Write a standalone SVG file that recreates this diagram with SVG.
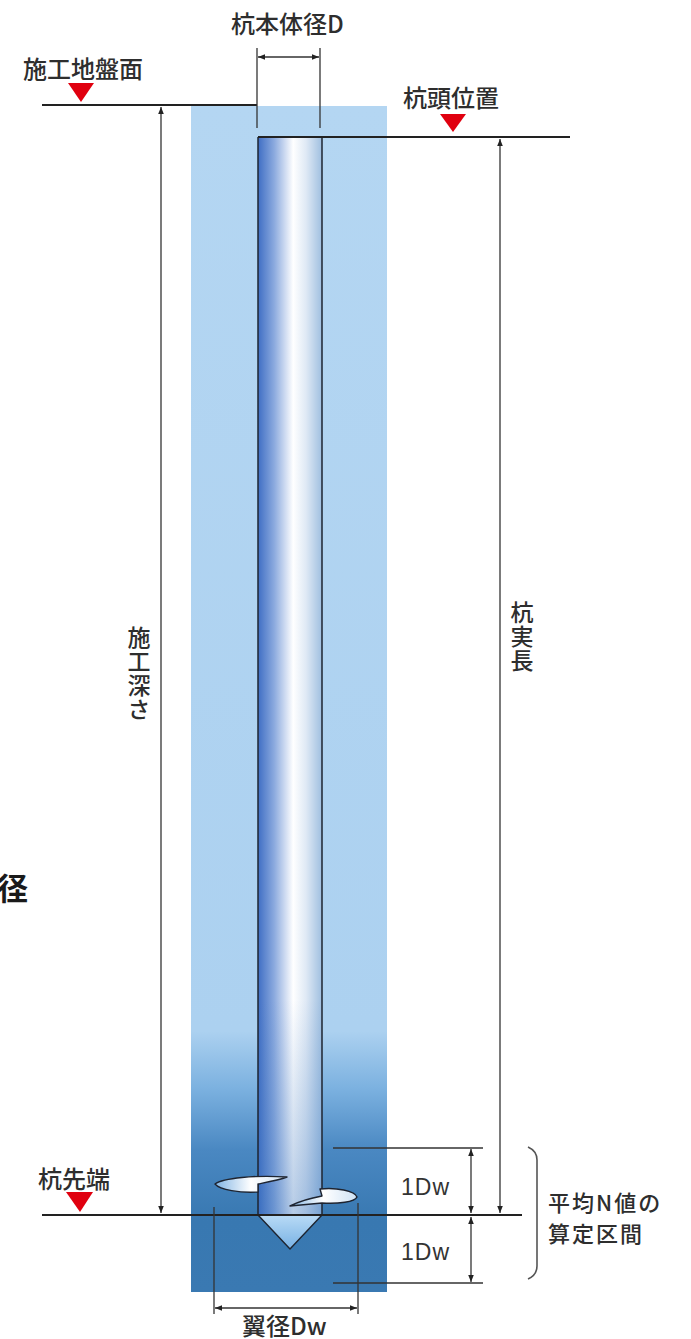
<svg xmlns="http://www.w3.org/2000/svg" width="691" height="1339" viewBox="0 0 691 1339">
  <defs>
    <style>
      .lbl { font-family: "Noto Sans CJK JP", "Noto Sans", sans-serif; font-size: 24px; font-weight: 500; fill: #2e2e2e; }
      .vert { font-size: 23px; writing-mode: vertical-rl; letter-spacing: 1px; }
      .note { font-size: 22px; letter-spacing: 2px; }
      .num { font-family: "Liberation Sans", "Noto Sans", sans-serif; font-size: 23px; fill: #333; letter-spacing: 1px; }
      .line { stroke: #222; stroke-width: 1.8; fill: none; }
      .dim { stroke: #333; stroke-width: 1.3; fill: none; }
      .mark { fill: #e0000f; }
      .edge { stroke: #1e2430; stroke-width: 1.5; }
    </style>
    <marker id="arr" viewBox="0 0 10 10" refX="10" refY="5" markerWidth="9" markerHeight="7" markerUnits="userSpaceOnUse" orient="auto-start-reverse">
      <path d="M0,1 L10,5 L0,9 Z" fill="#222"/>
    </marker>
    <linearGradient id="soilGrad" x1="0" y1="106" x2="0" y2="1292" gradientUnits="userSpaceOnUse">
      <stop offset="0" stop-color="#b4d6f2"/>
      <stop offset="0.78" stop-color="#acd1f0"/>
      <stop offset="0.83" stop-color="#7ab0df"/>
      <stop offset="0.88" stop-color="#4a88c2"/>
      <stop offset="0.94" stop-color="#3878b1"/>
      <stop offset="1" stop-color="#3a79b2"/>
    </linearGradient>
    <linearGradient id="pileGrad" x1="258" y1="0" x2="322" y2="0" gradientUnits="userSpaceOnUse">
      <stop offset="0" stop-color="#3f6ec4"/>
      <stop offset="0.25" stop-color="#8aa9de"/>
      <stop offset="0.55" stop-color="#ffffff"/>
      <stop offset="0.75" stop-color="#dfe9f5"/>
      <stop offset="1" stop-color="#9fbfe0"/>
    </linearGradient>
    <linearGradient id="pileShade" x1="0" y1="137" x2="0" y2="1215" gradientUnits="userSpaceOnUse">
      <stop offset="0" stop-color="#2e6cb8" stop-opacity="0"/>
      <stop offset="0.8" stop-color="#2e6cb8" stop-opacity="0"/>
      <stop offset="1" stop-color="#2e6cb8" stop-opacity="0.35"/>
    </linearGradient>
    <linearGradient id="bladeGrad" x1="0" y1="0" x2="1" y2="0">
      <stop offset="0" stop-color="#7fb3e3"/>
      <stop offset="0.5" stop-color="#ffffff"/>
      <stop offset="1" stop-color="#cfe2f4"/>
    </linearGradient>
    <linearGradient id="coneGrad" x1="0" y1="0" x2="0" y2="1">
      <stop offset="0" stop-color="#b9dbf6"/>
      <stop offset="1" stop-color="#78b1e4"/>
    </linearGradient>
  </defs>

  <rect width="691" height="1339" fill="#ffffff"/>

  <!-- ground column around the pile -->
  <g id="soil">
    <rect x="191" y="106" width="196" height="1186" fill="url(#soilGrad)"/>
  </g>

  <!-- steel pile with helical blade and conical tip -->
  <g id="pile">
    <rect x="258" y="137" width="64" height="1078" fill="url(#pileGrad)"/>
    <rect x="258" y="137" width="64" height="1078" fill="url(#pileShade)"/>
    <line class="edge" x1="258" y1="137" x2="258" y2="1215"/>
    <line class="edge" x1="322" y1="137" x2="322" y2="1215"/>
    <polygon points="258,1215 322,1215 290,1249" fill="url(#coneGrad)" stroke="#1e2430" stroke-width="1.4" stroke-linejoin="round"/>
    <path d="M287,1177 C255,1175 223,1178 215,1184 C220,1190 240,1193 258,1192 L258,1184 C268,1182 279,1180 287,1177 Z" fill="url(#bladeGrad)" stroke="#1e2430" stroke-width="1.4" stroke-linejoin="round"/>
    <path d="M320,1189 C336,1187 355,1191 357,1197 C355,1202 338,1204 322,1203 L290,1206 C300,1201 311,1198 322,1196 Z" fill="url(#bladeGrad)" stroke="#1e2430" stroke-width="1.4" stroke-linejoin="round"/>
  </g>

  <!-- construction ground level -->
  <g id="ground-level">
    <line class="line" x1="42" y1="105" x2="257" y2="105"/>
    <polygon class="mark" points="68,83 94,83 81,102"/>
    <text class="lbl" x="23" y="78">施工地盤面</text>
  </g>

  <!-- pile head level -->
  <g id="pile-head">
    <line class="line" x1="258" y1="137" x2="570" y2="137"/>
    <polygon class="mark" points="440,114 466,114 453,132"/>
    <text class="lbl" x="403" y="107">杭頭位置</text>
  </g>

  <!-- pile tip level -->
  <g id="pile-tip">
    <line class="line" x1="42" y1="1215" x2="522" y2="1215"/>
    <polygon class="mark" points="66,1192 93,1192 80,1212"/>
    <text class="lbl" x="38" y="1188">杭先端</text>
  </g>

  <!-- dimension lines -->
  <g id="connectors">
    <!-- pile diameter D -->
    <line class="dim" x1="257" y1="48" x2="257" y2="128"/>
    <line class="dim" x1="320" y1="48" x2="320" y2="128"/>
    <line class="dim" x1="258" y1="57" x2="319" y2="57" marker-start="url(#arr)" marker-end="url(#arr)"/>
    <!-- construction depth -->
    <line class="dim" x1="161" y1="107" x2="161" y2="1213" marker-start="url(#arr)" marker-end="url(#arr)"/>
    <!-- actual pile length -->
    <line class="dim" x1="500" y1="139" x2="500" y2="1213" marker-start="url(#arr)" marker-end="url(#arr)"/>
    <!-- 1Dw above and below the tip -->
    <line class="dim" x1="333" y1="1148" x2="483" y2="1148"/>
    <line class="dim" x1="333" y1="1283" x2="483" y2="1283"/>
    <line class="dim" x1="471" y1="1149" x2="471" y2="1213" marker-start="url(#arr)" marker-end="url(#arr)"/>
    <line class="dim" x1="471" y1="1217" x2="471" y2="1282" marker-start="url(#arr)" marker-end="url(#arr)"/>
    <!-- blade diameter Dw -->
    <line class="dim" x1="214" y1="1207" x2="214" y2="1314"/>
    <line class="dim" x1="358" y1="1203" x2="358" y2="1314"/>
    <line class="dim" x1="215" y1="1308" x2="357" y2="1308" marker-start="url(#arr)" marker-end="url(#arr)"/>
    <!-- averaging range bracket -->
    <path d="M528,1147 Q537,1151 537,1160 L537,1266 Q537,1275 528,1279" fill="none" stroke="#555" stroke-width="1.6"/>
  </g>

  <!-- labels -->
  <g id="labels">
    <text class="lbl" x="231" y="33">杭本体径D</text>
    <text class="lbl vert" x="139" y="626">施工深さ</text>
    <text class="lbl vert" x="522" y="601">杭実長</text>
    <text class="num" x="401" y="1195">1Dw</text>
    <text class="num" x="401" y="1260">1Dw</text>
    <text class="lbl note" x="548" y="1211">平均N値の</text>
    <text class="lbl note" x="548" y="1242">算定区間</text>
    <text class="lbl" x="242" y="1335">翼径Dw</text>
    <text x="-3" y="900" style="font-family: 'Noto Sans CJK JP', sans-serif; font-size: 31px; font-weight: 700; fill: #1a1a1a;">径</text>
  </g>
</svg>
